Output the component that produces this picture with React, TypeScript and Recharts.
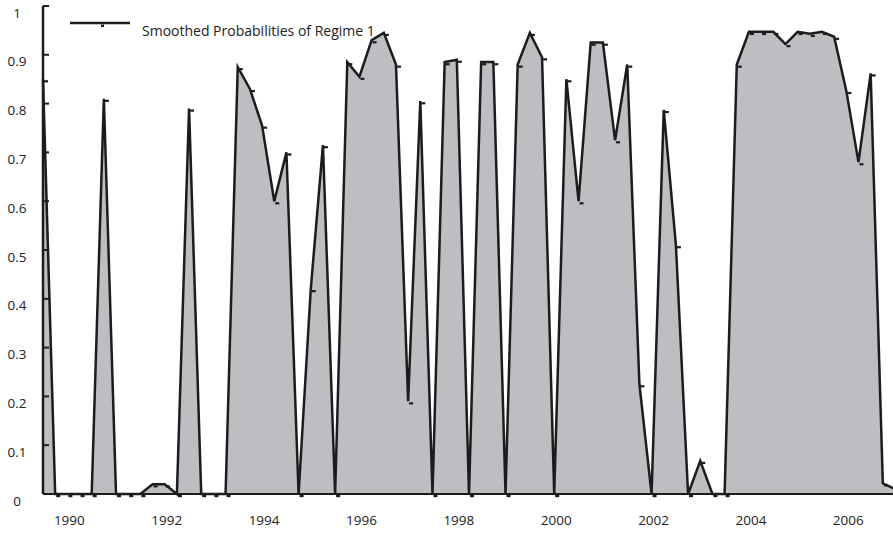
import { Area, AreaChart, XAxis, YAxis } from 'recharts'

// quarterly smoothed probabilities, 1989Q3 .. 2007Q1
const regime1 = [
  0.85, 0, 0, 0, 0, 0.81, 0, 0, 0, 0.02, 0.02, 0, 0.79, 0, 0, 0,
  0.875, 0.83, 0.755, 0.6, 0.7, 0, 0.42, 0.715, 0, 0.885, 0.855, 0.93, 0.945, 0.88,
  0.19, 0.805, 0, 0.885, 0.89, 0, 0.885, 0.885, 0, 0.88, 0.945, 0.895, 0,
  0.85, 0.6, 0.925, 0.925, 0.725, 0.88, 0.225, 0, 0.787, 0.51, 0, 0.068, 0, 0,
  0.88, 0.947, 0.947, 0.947, 0.922, 0.947, 0.943, 0.947, 0.937, 0.826, 0.68, 0.862,
  0.022, 0.01,
]

const periods: string[] = []
for (let i = 0; i < regime1.length; i++) {
  const q = (2 + i) % 4
  const y = 1989 + Math.floor((2 + i) / 4)
  periods.push(`${y}Q${q + 1}`)
}

const yearLabels = ['1990', '1992', '1994', '1996', '1998', '2000', '2002', '2004', '2006']
const yTicks = [0, 0.1, 0.2, 0.3, 0.4, 0.5, 0.6, 0.7, 0.8, 0.9, 1]
const seriesName = 'Smoothed Probabilities of Regime 1'

const data = regime1.map((p, i) => ({ t: i, period: periods[i], p }))
const xTicks = yearLabels.map((y) => periods.indexOf(`${y}Q1`))

const FONT = '"Open Sans", sans-serif'
const INK = '#1c1c1c'
const TEXT = '#222'

function YTick({ x, y, payload }: any) {
  const axisX = x + 8
  return (
    <g>
      <line x1={axisX} x2={axisX + 6} y1={y} y2={y} stroke={INK} strokeWidth={2} />
      <text x={17} y={y + 8} textAnchor="middle" dominantBaseline="middle" fontFamily={FONT} fontSize={13.5} fill={TEXT}>
        {payload.value === 0 || payload.value === 1 ? payload.value : payload.value.toFixed(1)}
      </text>
    </g>
  )
}

function XTick({ x, y, payload }: any) {
  const label = periods[payload.value].slice(0, 4)
  return (
    <text x={x + 2} y={y + 23} textAnchor="middle" fontFamily={FONT} fontSize={13.5} fill={TEXT}>
      {label}
    </text>
  )
}

function Marker(props: any) {
  const { cx, cy, index } = props
  if (cx == null || cy == null) return <g key={index} />
  return <rect key={index} x={cx + 1} y={cy + 1} width={4} height={2.2} fill={INK} />
}

export default function App() {
  return (
    <div style={{ position: 'relative', width: 893, height: 536, overflow: 'hidden', background: '#fff' }}>
      <style>{'body{margin:0}'}</style>
      <AreaChart width={895} height={536} data={data} margin={{ top: 6, right: 0, left: 0, bottom: 12 }}>
        <XAxis
          dataKey="t"
          type="number"
          domain={[0, 70]}
          ticks={xTicks}
          interval={0}
          height={30}
          axisLine={{ stroke: INK, strokeWidth: 2 }}
          tickLine={false}
          tick={<XTick />}
        />
        <YAxis
          type="number"
          domain={[0, 1]}
          ticks={yTicks}
          interval={0}
          width={43}
          axisLine={{ stroke: INK, strokeWidth: 2.5 }}
          tickLine={false}
          tick={<YTick />}
        />
        <Area
          type="linear"
          dataKey="p"
          name={seriesName}
          stroke={INK}
          strokeWidth={2.5}
          fill="#bdbec1"
          fillOpacity={1}
          dot={Marker}
          activeDot={false}
          isAnimationActive={false}
        />
      </AreaChart>
      <svg width={330} height={30} style={{ position: 'absolute', left: 70, top: 12 }}>
        <line x1={0} x2={60} y1={11} y2={11} stroke={INK} strokeWidth={2.5} />
        <rect x={31} y={12.5} width={3} height={2.5} fill={INK} />
        <text x={72} y={24} fontFamily={FONT} fontSize={14} fill={TEXT}>
          {seriesName}
        </text>
      </svg>
    </div>
  )
}
